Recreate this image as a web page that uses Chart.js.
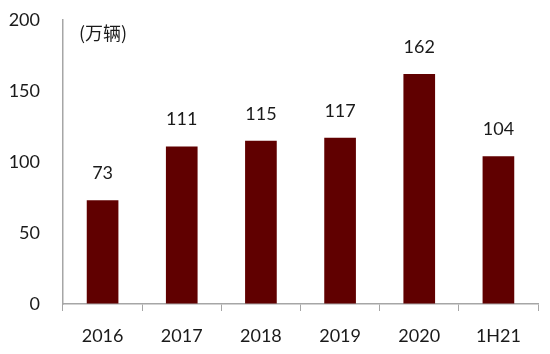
<!DOCTYPE html>
<html>
<head>
<meta charset="utf-8">
<script src="https://cdn.jsdelivr.net/npm/chart.js@4"></script>
<style>
  html, body { margin: 0; padding: 0; background: #fff; }
  #wrap { width: 550px; height: 354px; position: relative; }
</style>
</head>
<body>
<div id="wrap"><canvas id="c" width="550" height="354"></canvas></div>
<script>
var categories = ['2016', '2017', '2018', '2019', '2020', '1H21'];
var sales = [73, 111, 115, 117, 162, 104];
var yTicks = [0, 50, 100, 150, 200];
var unitLabel = '(万辆)';

var fontFamily = 'Lato, "Noto Sans CJK SC", sans-serif';
var axisGrey = '#a6a6a6';

// labels above bars + unit text
var barLabels = {
	id: 'barLabels',
	afterDatasetsDraw: function(chart){
		var ctx = chart.ctx;
		var meta = chart.getDatasetMeta(0);
		ctx.save();
		ctx.fillStyle = '#1a1a1a';
		ctx.font = '18px ' + fontFamily;
		ctx.textAlign = 'center';
		ctx.textBaseline = 'middle';
		meta.data.forEach(function(bar, i){
			ctx.fillText(String(sales[i]), bar.x, bar.y - 27);
		});
		ctx.font = '18px "Noto Sans CJK SC", sans-serif';
		ctx.textAlign = 'left';
		ctx.fillText(unitLabel, chart.chartArea.left + 16, 33);
		ctx.restore();
	}
};

new Chart(document.getElementById('c'), {
	type: 'bar',
	data: {
		labels: categories,
		datasets: [{
			data: sales,
			backgroundColor: '#600000',
			borderWidth: 0,
			barPercentage: 0.4,
			categoryPercentage: 1.0
		}]
	},
	options: {
		responsive: false,
		animation: false,
		layout: { padding: { top: 20, right: 12, left: 0, bottom: 0 } },
		plugins: {
			legend: { display: false },
			tooltip: { enabled: false }
		},
		scales: {
			x: {
				grid: {
					offset: true,
					drawOnChartArea: false,
					drawTicks: true,
					tickLength: 7,
					color: axisGrey
				},
				border: { display: true, color: axisGrey, width: 1.5 },
				ticks: {
					color: '#1a1a1a',
					font: { family: fontFamily, size: 18 },
					padding: 14,
					maxRotation: 0
				},
				afterFit: function(scale){ scale.height = 50; }
			},
			y: {
				min: 0,
				max: 200,
				afterBuildTicks: function(scale){
					scale.ticks = yTicks.map(function(v){ return { value: v }; });
				},
				grid: { drawOnChartArea: false, drawTicks: false },
				border: { display: true, color: axisGrey, width: 1.5 },
				ticks: {
					color: '#1a1a1a',
					font: { family: fontFamily, size: 18 },
					padding: 23
				},
				afterFit: function(scale){
					scale.width = 63;
					scale.paddingTop = 0;
					scale.paddingBottom = 0;
				}
			}
		}
	},
	plugins: [barLabels]
});
</script>
</body>
</html>
